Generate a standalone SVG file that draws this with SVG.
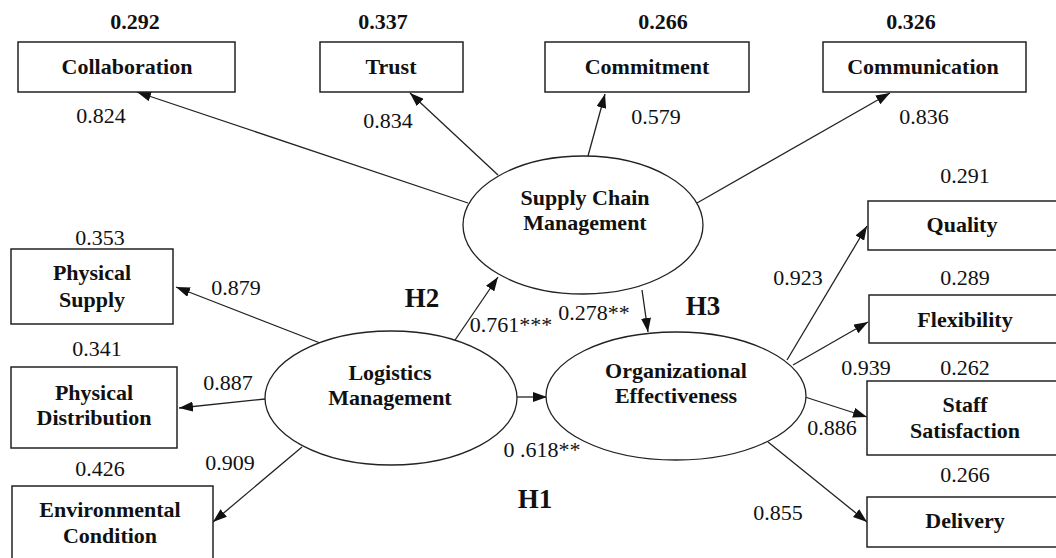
<svg xmlns="http://www.w3.org/2000/svg" width="1056" height="558" viewBox="0 0 1056 558">
<defs>
<marker id="arr" viewBox="0 0 14 10" refX="14" refY="5" markerWidth="14" markerHeight="10" markerUnits="userSpaceOnUse" orient="auto">
<path d="M0,0 L14,5 L0,10 z" fill="#111"/>
</marker>
<style>
.box{fill:#fff;stroke:#222;stroke-width:1.5}
.ell{fill:#fff;stroke:#222;stroke-width:1.3}
.edge{stroke:#222;stroke-width:1.3;fill:none;marker-end:url(#arr)}
text{font-family:"Liberation Serif","Times New Roman",serif;font-size:22px;fill:#111;text-anchor:middle}
.b{font-weight:bold}
.h{font-weight:bold;font-size:27px}
</style>
</defs>
<rect width="1056" height="558" fill="#fff"/>
<g id="connectors">
<line class="edge" x1="468" y1="203" x2="137" y2="92"/>
<line class="edge" x1="498" y1="175" x2="410" y2="93"/>
<line class="edge" x1="588" y1="156" x2="605" y2="94"/>
<line class="edge" x1="697" y1="203" x2="890" y2="93"/>
<line class="edge" x1="320" y1="343" x2="176" y2="287"/>
<line class="edge" x1="265" y1="399" x2="179" y2="408"/>
<line class="edge" x1="302" y1="447" x2="213" y2="522"/>
<line class="edge" x1="453" y1="343" x2="498" y2="277"/>
<line class="edge" x1="642" y1="290" x2="648" y2="332"/>
<line class="edge" x1="517" y1="397" x2="547" y2="397"/>
<line class="edge" x1="787" y1="360" x2="867" y2="226"/>
<line class="edge" x1="793" y1="365" x2="868" y2="322"/>
<line class="edge" x1="805" y1="397" x2="867" y2="417"/>
<line class="edge" x1="768" y1="442" x2="867" y2="522"/>
<text x="101" y="123">0.824</text>
<text x="388" y="128">0.834</text>
<text x="656" y="124">0.579</text>
<text x="924" y="124">0.836</text>
<text x="236" y="295">0.879</text>
<text x="228" y="390">0.887</text>
<text x="230" y="470">0.909</text>
<text x="511" y="332">0.761***</text>
<text x="594" y="320">0.278**</text>
<text x="542" y="457">0 .618**</text>
<text x="798" y="285">0.923</text>
<text x="866" y="375">0.939</text>
<text x="832" y="435">0.886</text>
<text x="778" y="520">0.855</text>
<text class="h" x="422" y="307">H2</text>
<text class="h" x="703" y="315">H3</text>
<text class="h" x="535" y="508">H1</text>
</g>
<g id="collaboration">
<text class="b" x="135" y="29">0.292</text>
<rect class="box" x="18" y="42" width="217" height="50"/>
<text class="b" x="127" y="74">Collaboration</text>
</g>
<g id="trust">
<text class="b" x="383" y="29">0.337</text>
<rect class="box" x="320" y="42" width="143" height="50"/>
<text class="b" x="391" y="74">Trust</text>
</g>
<g id="commitment">
<text class="b" x="663" y="29">0.266</text>
<rect class="box" x="545" y="42" width="204" height="50"/>
<text class="b" x="647" y="74">Commitment</text>
</g>
<g id="communication">
<text class="b" x="911" y="29">0.326</text>
<rect class="box" x="823" y="42" width="203" height="50"/>
<text class="b" x="923" y="74">Communication</text>
</g>
<g id="physical-supply">
<text x="100" y="245">0.353</text>
<rect class="box" x="11" y="249" width="162" height="75"/>
<text class="b" x="92" y="280">Physical</text>
<text class="b" x="92" y="307">Supply</text>
</g>
<g id="physical-distribution">
<text x="97" y="356">0.341</text>
<rect class="box" x="11" y="367" width="166" height="81"/>
<text class="b" x="94" y="400">Physical</text>
<text class="b" x="94" y="425">Distribution</text>
</g>
<g id="environmental-condition">
<text x="100" y="476">0.426</text>
<rect class="box" x="12" y="486" width="201" height="80"/>
<text class="b" x="110" y="517">Environmental</text>
<text class="b" x="110" y="543">Condition</text>
</g>
<g id="supply-chain-management">
<ellipse class="ell" cx="583" cy="225" rx="120" ry="69"/>
<text class="b" x="585" y="205">Supply Chain</text>
<text class="b" x="585" y="230">Management</text>
</g>
<g id="logistics-management">
<ellipse class="ell" cx="391" cy="398" rx="126" ry="67"/>
<text class="b" x="390" y="380">Logistics</text>
<text class="b" x="390" y="405">Management</text>
</g>
<g id="organizational-effectiveness">
<ellipse class="ell" cx="676" cy="396" rx="130" ry="64"/>
<text class="b" x="676" y="378">Organizational</text>
<text class="b" x="676" y="403">Effectiveness</text>
</g>
<g id="quality">
<text x="965" y="183">0.291</text>
<rect class="box" x="868" y="201" width="200" height="49"/>
<text class="b" x="962" y="232">Quality</text>
</g>
<g id="flexibility">
<text x="965" y="285">0.289</text>
<rect class="box" x="869" y="295" width="200" height="48"/>
<text class="b" x="965" y="327">Flexibility</text>
</g>
<g id="staff-satisfaction">
<text x="965" y="375">0.262</text>
<rect class="box" x="867" y="381" width="200" height="74"/>
<text class="b" x="965" y="412">Staff</text>
<text class="b" x="965" y="438">Satisfaction</text>
</g>
<g id="delivery">
<text x="965" y="482">0.266</text>
<rect class="box" x="867" y="497" width="200" height="50"/>
<text class="b" x="965" y="528">Delivery</text>
</g>
</svg>
